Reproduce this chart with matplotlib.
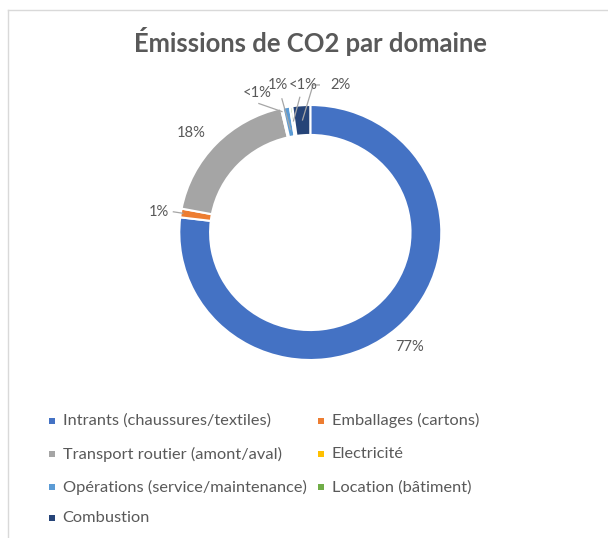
import matplotlib
matplotlib.use("Agg")
import matplotlib.pyplot as plt
import numpy as np
from matplotlib.lines import Line2D
from matplotlib.patches import Rectangle

# ---------------- data ----------------
title = "Émissions de CO2 par domaine"
categories = ["Intrants (chaussures/textiles)", "Emballages (cartons)",
              "Transport routier (amont/aval)", "Electricité",
              "Opérations (service/maintenance)", "Location (bâtiment)",
              "Combustion"]
shares = [76.9, 1.1, 18.4, 0.2, 0.9, 0.3, 2.2]
colors = ["#4472C4", "#ED7D31", "#A5A5A5", "#FFC000",
          "#5B9BD5", "#70AD47", "#264478"]


def pct_label(v):
    return "<1%" if v < 0.5 else f"{round(v):.0f}%"


# ---------------- layout ----------------
W, H = 608, 538
CX, CY, RX, RY = 310.3, 232.5, 131.0, 127.5   # donut centre / radii in px
TXT = "#595959"
FONT = ["Lato", "DejaVu Sans"]

# label positions (data units) and leader-line start points
label_xy = [(0.761, -0.896), (-1.159, 0.161), (-0.911, 0.780),
            (-0.407, 1.094), (-0.246, 1.157), (-0.052, 1.157), (0.234, 1.157)]
leaders = [None, ([(-1.050, 0.163)], 0.98), None,
           ([(-0.397, 1.013)], 0.97), ([(-0.218, 1.053)], 0.82),
           ([(-0.079, 1.065)], 0.88), ([(0.074, 1.157), (0.021, 1.157)], 0.88)]

fig = plt.figure(figsize=(W / 100, H / 100), dpi=100)
fig.patch.set_facecolor("white")

ax = fig.add_axes([0, 0, 1, 1])
wedges, _ = ax.pie(shares, colors=colors, startangle=90, counterclock=False,
                   radius=1.0,
                   wedgeprops=dict(width=0.235, edgecolor="white", linewidth=1.5))
ax.set_aspect("auto")
ax.set_xlim(-CX / RX, (W - CX) / RX)
ax.set_ylim(-(H - CY) / RY, CY / RY)
ax.axis("off")

# percentage labels + leader lines
labels = []
for i, (w, v) in enumerate(zip(wedges, shares)):
    lx, ly = label_xy[i]
    t = ax.text(lx, ly, pct_label(v), ha="center", va="center",
                fontsize=10, color=TXT, family=FONT)
    labels.append(t)
    if leaders[i] is not None:
        pts, r_end = leaders[i]
        mid = np.deg2rad((w.theta1 + w.theta2) / 2)
        xs = [p[0] for p in pts] + [r_end * np.cos(mid)]
        ys = [p[1] for p in pts] + [r_end * np.sin(mid)]
        ax.plot(xs, ys, color="#A6A6A6", lw=0.9, solid_capstyle="butt")

# title
ttl = fig.text(310.7 / W, 1 - 51.7 / H, title, ha="center", va="baseline",
               fontsize=15, fontweight="bold", color=TXT, family=FONT)

# legend (two columns)
col_marker_x = [52.0, 321.0]
col_text_x = [62.7, 331.7]
row_y = [420.7, 454.0, 487.3, 518.3]
leg_texts = []
for i, (cat, c) in enumerate(zip(categories, colors)):
    col, row = i % 2, i // 2
    y = row_y[row]
    fig.add_artist(Rectangle(((col_marker_x[col] - 3) / W, 1 - (y + 3) / H),
                             6 / W, 6 / H, transform=fig.transFigure,
                             facecolor=c, edgecolor="none"))
    t = fig.text(col_text_x[col] / W, 1 - y / H, cat, ha="left", va="center",
                 fontsize=10, color=TXT, family=FONT)
    leg_texts.append(t)

# chart-area border (top and left edges visible)
fig.add_artist(Line2D([8 / W, 8 / W], [0, 1 - 10.3 / H], transform=fig.transFigure,
                      color="#D9D9D9", lw=1))
fig.add_artist(Line2D([8 / W, 1], [1 - 10.3 / H, 1 - 10.3 / H],
                      transform=fig.transFigure, color="#D9D9D9", lw=1))

# fit font sizes to measured widths
fig.canvas.draw()
rend = fig.canvas.get_renderer()


def scale_for(t, target):
    return t.get_fontsize() * target / t.get_window_extent(rend).width


ttl.set_fontsize(scale_for(ttl, 355))
lab_fs = scale_for(labels[2], 29)
for t in labels:
    t.set_fontsize(lab_fs)
leg_fs = scale_for(leg_texts[4], 244)
for t in leg_texts:
    t.set_fontsize(leg_fs)

fig.savefig("out.png", dpi=100, facecolor="white")
